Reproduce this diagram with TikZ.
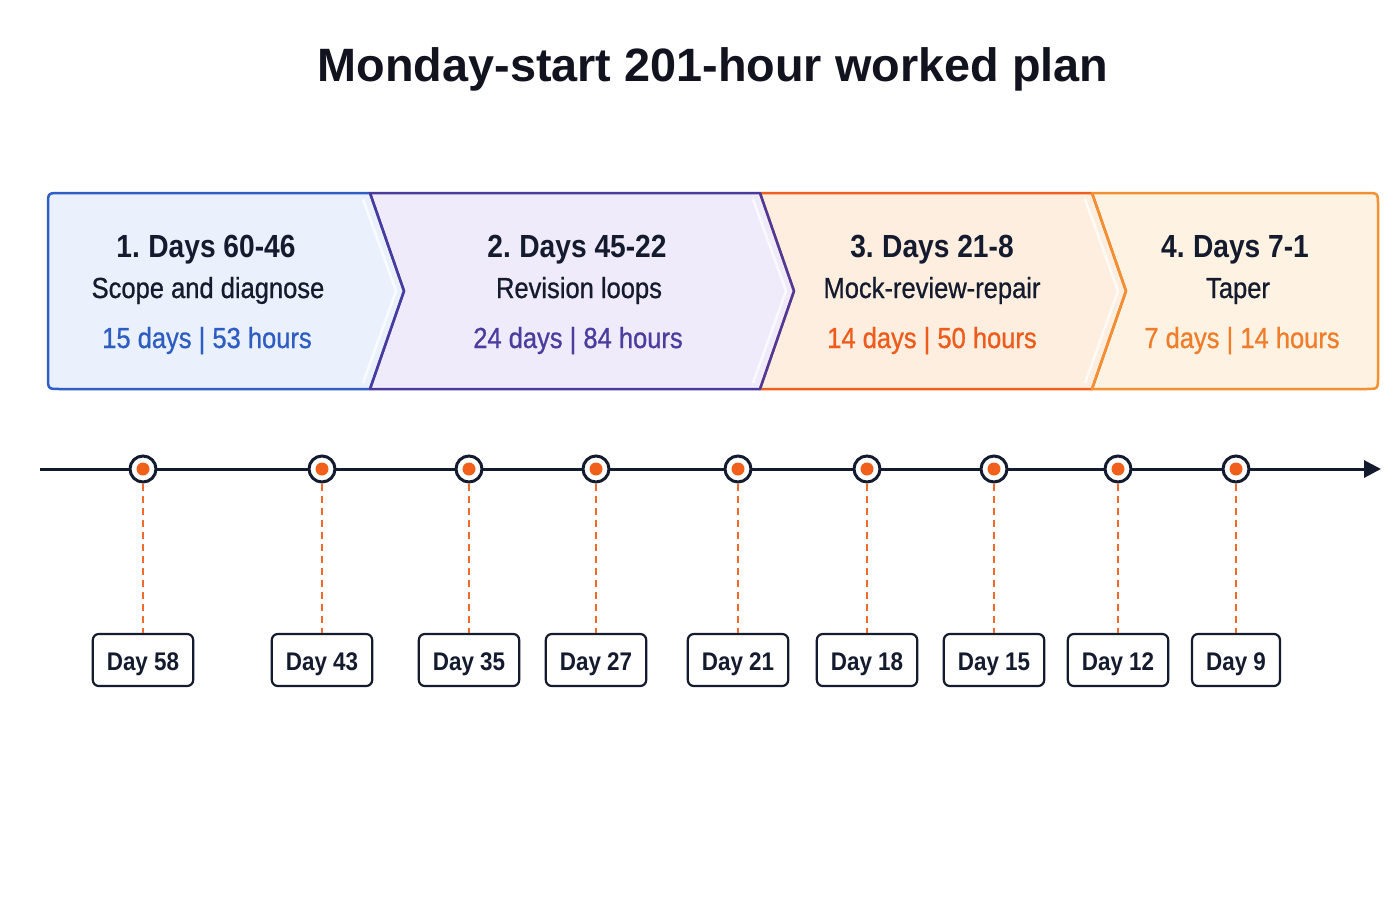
\documentclass[tikz,border=0pt]{standalone}
\usepackage{fontspec}
\setmainfont{Liberation Sans}
\newfontfamily\bodyf[FakeStretch=0.88]{Liberation Sans}
\newfontfamily\bodym[FakeStretch=0.88,FakeBold=0.8]{Liberation Sans}
\usetikzlibrary{arrows.meta}
\definecolor{navy}{HTML}{151B2E}
\definecolor{titlec}{HTML}{11141F}
\definecolor{blueB}{HTML}{2F5EC6}
\definecolor{blueF}{HTML}{EAF1FC}
\definecolor{purB}{HTML}{4A3A9E}
\definecolor{purF}{HTML}{EFEBFA}
\definecolor{redB}{HTML}{EF5F1F}
\definecolor{redF}{HTML}{FDEEDF}
\definecolor{orB}{HTML}{F39031}
\definecolor{orF}{HTML}{FEF2E2}
\definecolor{statblue}{HTML}{2D5CC2}
\definecolor{statpur}{HTML}{4B3DA0}
\definecolor{statred}{HTML}{EE5B1A}
\definecolor{statorange}{HTML}{F07D2A}
\definecolor{dotc}{HTML}{F0601A}
\definecolor{dashc}{HTML}{F06A2A}
\begin{document}
\begin{tikzpicture}[x=1pt,y=-1pt,
  titlestyle/.style={anchor=base, inner sep=0, text=titlec, font=\bfseries\fontsize{46.8}{50}\selectfont},
  hd/.style={anchor=base, inner sep=0, text=navy, font=\bodyf\bfseries\fontsize{32}{36}\selectfont},
  sub/.style={anchor=base, inner sep=0, text=navy, font=\bodym\fontsize{29}{32}\selectfont},
  stat/.style={anchor=base, inner sep=0, font=\bodym\fontsize{29}{32}\selectfont},
  segborder/.style={line width=2.5pt, line join=round},
  glint/.style={white, line width=2.5pt, line join=round, opacity=0.75},
  marker/.style={circle, draw=navy, fill=white, line width=3pt, minimum size=26pt, inner sep=0},
  dotm/.style={circle, fill=dotc, minimum size=13pt, inner sep=0},
  dashline/.style={dashc, line width=2.5pt, dash pattern=on 7pt off 5pt},
  daybox/.style={draw=navy, fill=white, line width=2.2pt, rounded corners=6pt, minimum height=52pt, inner xsep=14pt, text height=20pt, text depth=0pt, text=navy, font=\bodyf\bfseries\fontsize{25.5}{28}\selectfont},
  axis/.style={navy, line width=3pt, -{Triangle[length=17pt,width=17pt]}}
]
\fill[white] (0,0) rectangle (1400,900);
\useasboundingbox (0,0) rectangle (1400,900);

% title
\node[titlestyle] (title) at (713,81) {Monday-start 201-hour worked plan};

% segment fills
\fill[blueF] (370,193) -- (60,193) .. controls (48,193) .. (48,205) -- (48,377) .. controls (48,389) .. (60,389) -- (370,389) -- (404,291) -- cycle;
\fill[purF] (370,193) -- (760,193) -- (794,291) -- (760,389) -- (370,389) -- (404,291) -- cycle;
\fill[redF] (760,193) -- (1092,193) -- (1126,291) -- (1092,389) -- (760,389) -- (794,291) -- cycle;
\fill[orF] (1092,193) -- (1366,193) .. controls (1378,193) .. (1378,205) -- (1378,377) .. controls (1378,389) .. (1366,389) -- (1092,389) -- (1126,291) -- cycle;

% glints
\draw[glint] (363,199) -- (396,291) -- (363,383);
\draw[glint] (753,199) -- (786,291) -- (753,383);
\draw[glint] (1085,199) -- (1118,291) -- (1085,383);

% segment borders
\draw[segborder, blueB] (370,193) -- (60,193) .. controls (48,193) .. (48,205) -- (48,377) .. controls (48,389) .. (60,389) -- (370,389) -- (404,291) -- cycle;
\draw[segborder, redB] (760,193) -- (1092,193) -- (1126,291) -- (1092,389) -- (760,389) -- (794,291) -- cycle;
\draw[segborder, orB] (1092,193) -- (1366,193) .. controls (1378,193) .. (1378,205) -- (1378,377) .. controls (1378,389) .. (1366,389) -- (1092,389) -- (1126,291) -- cycle;
\draw[segborder, purB] (370,193) -- (760,193) -- (794,291) -- (760,389) -- (370,389) -- (404,291) -- cycle;

% segment texts
\node[hd] (p1a) at (206,257) {1.\kern-2pt{} Days 60-46};
\node[sub] (p1b) at (208,298) {Scope and diagnose};
\node[stat, text=statblue] (p1c) at (207,348) {15 days | 53 hours};

\node[hd] (p2a) at (577,257) {2.\kern-2pt{} Days 45-22};
\node[sub] (p2b) at (579,298) {Revision loops};
\node[stat, text=statpur] (p2c) at (578,348) {24 days | 84 hours};

\node[hd] (p3a) at (932,257) {3.\kern-2pt{} Days 21-8};
\node[sub] (p3b) at (932,298) {Mock-review-repair};
\node[stat, text=statred] (p3c) at (932,348) {14 days | 50 hours};

\node[hd] (p4a) at (1235,257) {4.\kern-2pt{} Days 7-1};
\node[sub] (p4b) at (1238,298) {Taper};
\node[stat, text=statorange] (p4c) at (1242,348) {7 days | 14 hours};

% timeline
\coordinate (ts) at (40,469);
\coordinate (te) at (1381,469);
\draw[axis] (ts) -- (te);

\foreach \i/\x/\lab in {1/143/58, 2/322/43, 3/469/35, 4/596/27, 5/738/21, 6/867/18, 7/994/15, 8/1118/12, 9/1236/9}{
  \node[marker] (m\i) at (\x,469) {};
  \node[dotm] (d\i) at (m\i.center) {};
  \node[daybox] (l\i) at (\x,660) {Day \lab};
  \draw[dashline] (m\i.south) -- (l\i.north);
}
\end{tikzpicture}
\end{document}
